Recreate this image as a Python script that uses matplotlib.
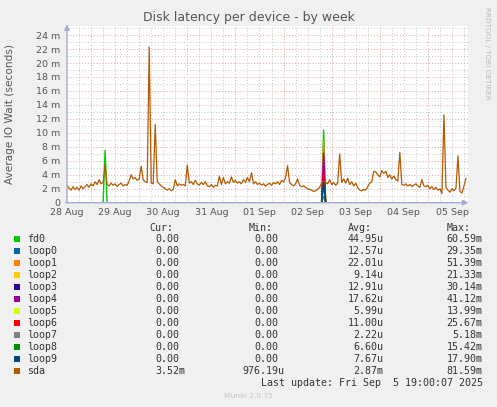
import matplotlib
matplotlib.use('Agg')
import matplotlib.pyplot as plt
import numpy as np

W, H = 497, 407

# sda latency in ms, one value per hour starting 28 Aug 12:00
sda = [
    2.5, 2.1, 1.8, 2.3, 1.9, 2.2, 1.8, 2.4, 2.0, 2.3,
    2.6, 2.2, 2.7, 2.4, 3.0, 2.6, 3.3, 2.7, 2.9, 5.4,
    2.6, 2.4, 2.8, 2.5, 2.7, 2.3, 2.6, 2.8, 2.4, 2.6,
    2.5, 3.1, 4.0, 3.4, 3.6, 3.2, 3.4, 5.2, 3.3, 3.0,
    2.9, 22.3, 2.8, 2.7, 11.2, 3.0, 2.7, 2.4, 2.2, 2.0,
    1.8, 2.0, 1.7, 1.9, 3.3, 2.4, 2.7, 2.5, 2.6, 2.4,
    5.4, 2.8, 3.0, 2.6, 3.2, 2.7, 2.5, 2.9, 2.6, 3.0,
    2.4, 2.3, 2.6, 2.2, 2.5, 2.4, 3.8, 2.6, 3.6, 2.7,
    3.0, 2.8, 3.7, 2.9, 3.2, 2.8, 3.0, 2.7, 3.3, 2.9,
    3.6, 3.0, 4.3, 2.7, 3.0, 2.6, 2.8, 2.5, 2.7, 2.4,
    2.6, 2.8, 2.5, 2.9, 2.7, 3.0, 2.6, 3.2, 3.0, 3.6,
    5.3, 2.9, 2.6, 2.4, 2.7, 3.4, 2.5, 2.3, 2.4, 2.2,
    2.0, 1.9, 1.8, 1.6, 1.7, 1.9, 2.2, 2.8, 3.1, 2.9,
    2.7, 3.3, 2.6, 2.9, 2.5, 2.8, 7.0, 2.9, 3.4, 2.8,
    3.5, 2.6, 3.0, 2.4, 2.8, 2.2, 1.8, 1.7, 1.9, 1.8,
    2.3, 2.8, 3.0, 4.5, 4.4, 4.0, 3.7, 4.6, 4.2, 4.5,
    3.6, 4.0, 3.4, 3.8, 3.3, 3.1, 7.2, 2.6, 2.5, 2.7,
    2.4, 2.6, 2.3, 2.5, 2.7, 2.4, 2.2, 3.3, 2.4, 2.3,
    2.5, 2.0, 2.3, 1.9, 2.2, 1.8, 2.0, 1.3, 12.6, 2.2,
    1.8, 1.5, 2.0, 1.7, 2.1, 6.7, 1.6, 1.4, 2.4, 3.5,
]

devices = ['fd0', 'loop0', 'loop1', 'loop2', 'loop3', 'loop4',
           'loop5', 'loop6', 'loop7', 'loop8', 'loop9', 'sda']
colors = ['#00CC00', '#0066B3', '#FF8000', '#FFCC00', '#330099', '#990099',
          '#CCFF00', '#FF0000', '#808080', '#008F00', '#00487D', '#B35A00']

# other devices are idle except short bursts (hour index, ms)
fd0_spikes = [(19, 7.5), (128, 10.4)]
loop_spike_hour = 128
loop_peaks = [5.03, 8.8, 3.66, 5.16, 7.05, 2.4, 4.4, 0.89, 2.64, 3.07]

cur_vals = ['0.00'] * 11 + ['3.52m']
min_vals = ['0.00'] * 11 + ['976.19u']
avg_vals = ['44.95u', '12.57u', '22.01u', '9.14u', '12.91u', '17.62u',
            '5.99u', '11.00u', '2.22u', '6.60u', '7.67u', '2.87m']
max_vals = ['60.59m', '29.35m', '51.39m', '21.33m', '30.14m', '41.12m',
            '13.99m', '25.67m', '5.18m', '15.42m', '17.90m', '81.59m']

day_labels = ['28 Aug', '29 Aug', '30 Aug', '31 Aug', '01 Sep',
              '02 Sep', '03 Sep', '04 Sep', '05 Sep']


def px(x, y):
    return x / W, 1 - y / H


fig = plt.figure(figsize=(W / 100, H / 100), dpi=100, facecolor='#F0F0F0')
ax = fig.add_axes([67 / W, (H - 202.7) / H, 401 / W, 176.7 / H])
ax.set_facecolor('white')

n = len(sda)
hours = np.arange(n)

# draw order like munin: fd0, loop0..loop9, sda
series = []
fd0 = np.zeros(n)
for h, v in fd0_spikes:
    fd0[h] = v
series.append(fd0)
for p in loop_peaks:
    s = np.zeros(n)
    s[loop_spike_hour] = p
    series.append(s)

for s, c in zip(series, colors[:-1]):
    ax.plot(hours, s, color=c, lw=1.0, zorder=3)
ax.plot(hours, sda, color=colors[-1], lw=0.9, zorder=4)

ax.set_xlim(0, 200)
ax.set_ylim(0, 25.3)

# grid
for t in np.arange(6, 200, 6):
    major = (t - 12) % 24 == 0
    ax.axvline(t, color='#e3a0a0' if major else '#c4c4c4', lw=0.7,
               ls=(0, (1, 2)), zorder=1)
for v in np.arange(1, 26, 1):
    major = v % 2 == 0
    ax.axhline(v, color='#e3a0a0' if major else '#c4c4c4', lw=0.7,
               ls=(0, (1, 2)), zorder=1)

ax.set_xticks(np.arange(0, 200, 24))
ax.set_xticklabels(day_labels)
yt = np.arange(0, 25, 2)
ax.set_yticks(yt)
ax.set_yticklabels(['0'] + [f'{v} m' for v in yt[1:]])
ax.tick_params(length=0, labelsize=6.8, colors='#555555')
ax.tick_params(axis='y', pad=5)
ax.tick_params(axis='x', pad=4)
for sp in ax.spines.values():
    sp.set_visible(False)

# axes with arrows
axis_col = '#a3aad8'
ax.annotate('', xy=(1.008, 0), xycoords='axes fraction', xytext=(-0.01, 0),
            arrowprops=dict(arrowstyle='-|>', color=axis_col, lw=1,
                            mutation_scale=8), zorder=6, annotation_clip=False)
ax.annotate('', xy=(0, 1.025), xycoords='axes fraction', xytext=(0, -0.015),
            arrowprops=dict(arrowstyle='-|>', color=axis_col, lw=1,
                            mutation_scale=8), zorder=6, annotation_clip=False)

fig.text(*px(248.5, 18), 'Disk latency per device - by week', ha='center',
         va='center', fontsize=9.0, color='#555555')
fig.text(*px(10.5, 114), 'Average IO Wait (seconds)', ha='center',
         va='center', rotation=90, fontsize=7.6, color='#555555')
fig.text(*px(487, 53), 'RRDTOOL / TOBI OETIKER', ha='center', va='center',
         rotation=270, fontsize=5.2, color='#bbbbbb')

# legend table
mono = dict(family='DejaVu Sans Mono', fontsize=7.2, color='#333333',
            va='center')
charw = 5.98
heads = [('Cur:', 149.7), ('Min:', 248.3), ('Avg:', 347.7), ('Max:', 446.7)]
for lab, x in heads:
    fig.text(*px(x, 228.3), lab, ha='left', **mono)

col_ends = [185.0, 284.0, 383.3, 482.7]
for k, name in enumerate(devices):
    y = 239.3 + 12 * k
    fig.patches.append(plt.Rectangle(px(14, y + 3), 6 / W, 6 / H,
                                     transform=fig.transFigure,
                                     color=colors[k], lw=0))
    fig.text(*px(26.7, y), name, ha='left', **mono)
    for vals, xe in zip([cur_vals, min_vals, avg_vals, max_vals], col_ends):
        s = vals[k]
        x = xe if s[-1].isalpha() else xe - charw
        fig.text(*px(x, y), s, ha='right', **mono)

fig.text(*px(482.7, 383.3), 'Last update: Fri Sep  5 19:00:07 2025',
         ha='right', **mono)
fig.text(*px(248, 396), 'Munin 2.0.75', ha='center', va='center',
         fontsize=5.4, color='#c4c4c4')

fig.savefig('out.png', dpi=100, facecolor=fig.get_facecolor())
